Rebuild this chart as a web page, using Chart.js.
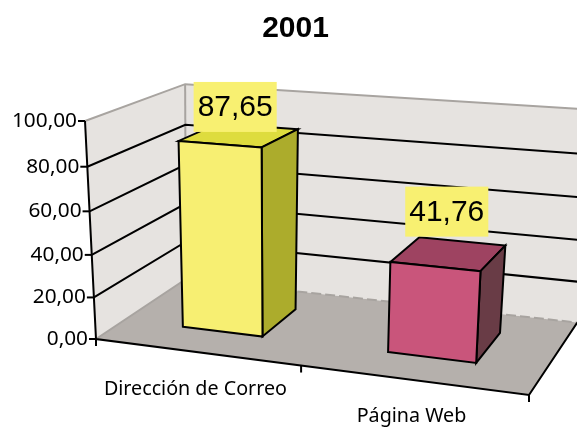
<!DOCTYPE html>
<html>
<head>
<meta charset="utf-8">
<title>2001</title>
<script src="https://cdn.jsdelivr.net/npm/chart.js@4"></script>
<style>
  html, body { margin: 0; padding: 0; background: #fff; }
  canvas { display: block; }
</style>
</head>
<body>
<canvas id="myChart" width="577" height="428"></canvas>
<script>
// data
const categories = ["Dirección de Correo", "Página Web"];
const values = [87.65, 41.76];
const yTicks = [0, 20, 40, 60, 80, 100];
const chartTitle = "2001";

// turns the flat chart area into the 3D box
// O = origin, X/Y/Z = where the box edges end on screen, the k values are the perspective strength
// lean/backX/backY = small corrections, the original is not a perfect perspective
const box = {
    O: [96, 339], X: [529, 395], Y: [85, 121], Z: [186, 279],
    kx: -0.1, ky: -0.0577, kz: 0.119, lean: 4, backX: 4, backY: 2,
    barFront: 0.30, barBack: 0.73
};

function project(u, v, w) {
    const d = 1 + u * box.kx + v * box.ky + w * box.kz;
    const at = i => (u * ((box.kx + 1) * box.X[i] - box.O[i]) +
                     v * ((box.ky + 1) * box.Y[i] - box.O[i]) +
                     w * ((box.kz + 1) * box.Z[i] - box.O[i]) + box.O[i]) / d;
    return [at(0) - box.lean * u * v + box.backX * w * v, at(1) + box.backY * w * v];
}

function path(ctx, pts) {
    ctx.beginPath();
    pts.forEach((p, i) => i ? ctx.lineTo(p[0], p[1]) : ctx.moveTo(p[0], p[1]));
}

function face(ctx, pts, fill) {
    path(ctx, pts);
    ctx.closePath();
    ctx.fillStyle = fill;
    ctx.fill();
    ctx.strokeStyle = "#000";
    ctx.lineWidth = 2;
    ctx.stroke();
}

function plain(ctx, pts, fill) {
    path(ctx, pts);
    ctx.closePath();
    ctx.fillStyle = fill;
    ctx.fill();
}

function line(ctx, pts, color, width, dash) {
    path(ctx, pts);
    ctx.strokeStyle = color;
    ctx.lineWidth = width;
    ctx.setLineDash(dash || []);
    ctx.stroke();
    ctx.setLineDash([]);
}

// the whole picture is drawn from the chart's own scales and bar elements
const box3d = {
    id: "box3d",
    beforeDatasetsDraw(chart, args, opts) {
        const ctx = chart.ctx;
        const area = chart.chartArea;
        const xs = chart.scales.x;
        const ys = chart.scales.y;
        const U = px => (px - area.left) / area.width;
        const V = px => (area.bottom - px) / area.height;

        ctx.save();
        ctx.lineCap = "butt";
        ctx.lineJoin = "miter";

        // walls and floor
        plain(ctx, [project(0, 0, 0), project(0, 1, 0), project(0, 1, 1), project(0, 0, 1)], opts.wall);
        plain(ctx, [project(0, 0, 1), project(0, 1, 1), project(1, 1, 1), project(1, 0, 1)], opts.wall);
        plain(ctx, [project(0, 0, 0), project(1, 0, 0), project(1, 0, 1), project(0, 0, 1)], opts.floor);

        // wall edges
        line(ctx, [project(0, 1, 0), project(0, 1, 1), project(1, 1, 1)], opts.edge, 2);
        line(ctx, [project(0, 1, 1), project(0, 0, 1)], opts.edge, 2);
        line(ctx, [project(0, 0, 0), project(0, 0, 1)], opts.edge, 2);
        line(ctx, [project(0, 0, 1), project(1, 0, 1)], opts.edge, 2, [10, 4]);

        // y ticks, gridlines and labels
        ctx.font = opts.tickFont;
        ctx.textAlign = "right";
        ctx.textBaseline = "middle";
        ys.getTicks().forEach(t => {
            const v = V(ys.getPixelForValue(t.value));
            const p = project(0, v, 0);
            if (t.value > ys.min && t.value < ys.max) {
                line(ctx, [p, project(0, v, 1), project(1, v, 1)], "#000", 2);
            }
            line(ctx, [p, [p[0] - opts.tickLen, p[1]]], "#000", 2);
            ctx.fillStyle = "#000";
            ctx.fillText(t.label, p[0] - opts.tickLen - 1, p[1]);
        });

        // front axes
        line(ctx, [project(0, 1, 0), project(0, 0, 0), project(1, 0, 0), project(1, 0, 1)], "#000", 2);

        // x ticks and labels
        for (let i = 0; i <= categories.length; i++) {
            const p = project(i / categories.length, 0, 0);
            line(ctx, [p, [p[0], p[1] + opts.tickLen]], "#000", 2);
        }
        ctx.font = opts.catFont;
        ctx.textAlign = "center";
        xs.getTicks().forEach((t, i) => {
            const p = project(U(xs.getPixelForTick(i)), 0, 0);
            ctx.fillStyle = "#000";
            ctx.fillText(categories[t.value], p[0] + opts.catShift[0], p[1] + opts.catShift[1]);
        });

        // bars
        const bars = chart.getDatasetMeta(0).data;
        bars.forEach((bar, i) => {
            const u0 = U(bar.x - bar.width / 2);
            const u1 = U(bar.x + bar.width / 2);
            const v0 = V(bar.base);
            const v1 = V(bar.y);
            const w0 = box.barFront;
            const w1 = box.barBack;
            face(ctx, [project(u0, v1, w0), project(u1, v1, w0), project(u1, v1, w1), project(u0, v1, w1)], opts.barTop[i]);
            face(ctx, [project(u1, v0, w0), project(u1, v1, w0), project(u1, v1, w1), project(u1, v0, w1)], opts.barSide[i]);
            face(ctx, [project(u0, v0, w0), project(u1, v0, w0), project(u1, v1, w0), project(u0, v1, w0)], chart.data.datasets[0].backgroundColor[i]);
        });

        // value labels on top of everything
        ctx.font = opts.labelFont;
        bars.forEach((bar, i) => {
            const p = project(U(bar.x), V(bar.y), (box.barFront + box.barBack) / 2);
            const cx = p[0] + opts.labelShift[i][0];
            const cy = p[1] + opts.labelShift[i][1];
            const text = values[i].toFixed(2).replace(".", ",");
            const tw = ctx.measureText(text).width + 8;
            ctx.fillStyle = opts.labelBack;
            ctx.fillRect(cx - tw / 2, cy - 25, tw, 50);
            ctx.fillStyle = "#000";
            ctx.fillText(text, cx, cy + 1);
        });

        ctx.restore();
        return false; // the flat bars are not wanted, they are replaced by the boxes above
    }
};

const config = {
    type: "bar",
    data: {
        labels: categories,
        datasets: [{
            data: values,
            backgroundColor: ["#F7EF72", "#C9557B"],
            barPercentage: 0.4,
            categoryPercentage: 1
        }]
    },
    options: {
        responsive: false,
        animation: false,
        layout: { padding: { left: 14 } },
        scales: {
            x: { display: false },
            y: {
                display: false,
                min: yTicks[0],
                max: yTicks[yTicks.length - 1],
                ticks: {
                    stepSize: yTicks[1] - yTicks[0],
                    callback: value => value.toFixed(2).replace(".", ",")
                }
            }
        },
        plugins: {
            legend: { display: false },
            tooltip: { enabled: false },
            title: {
                display: true,
                text: chartTitle,
                color: "#000",
                font: { family: "'Liberation Sans', Arial, sans-serif", size: 30, weight: "bold" },
                padding: { top: 11, bottom: 10 }
            },
            box3d: {
                wall: "#E6E3E0",
                floor: "#B5B0AC",
                edge: "#A8A4A0",
                barTop: ["#DEDC3E", "#9E4361"],
                barSide: ["#ACAC2C", "#693C46"],
                labelBack: "#F8F071",
                tickFont: "20.8px 'Noto Sans', sans-serif",
                catFont: "19.7px 'Noto Sans', sans-serif",
                labelFont: "30px 'Liberation Sans', Arial, sans-serif",
                tickLen: 7,
                catShift: [-0.5, 37],
                labelShift: [[-4, -28], [-2, -42]]
            }
        }
    },
    plugins: [box3d]
};

const myChart = new Chart(document.getElementById("myChart").getContext("2d"), config);
</script>
</body>
</html>
